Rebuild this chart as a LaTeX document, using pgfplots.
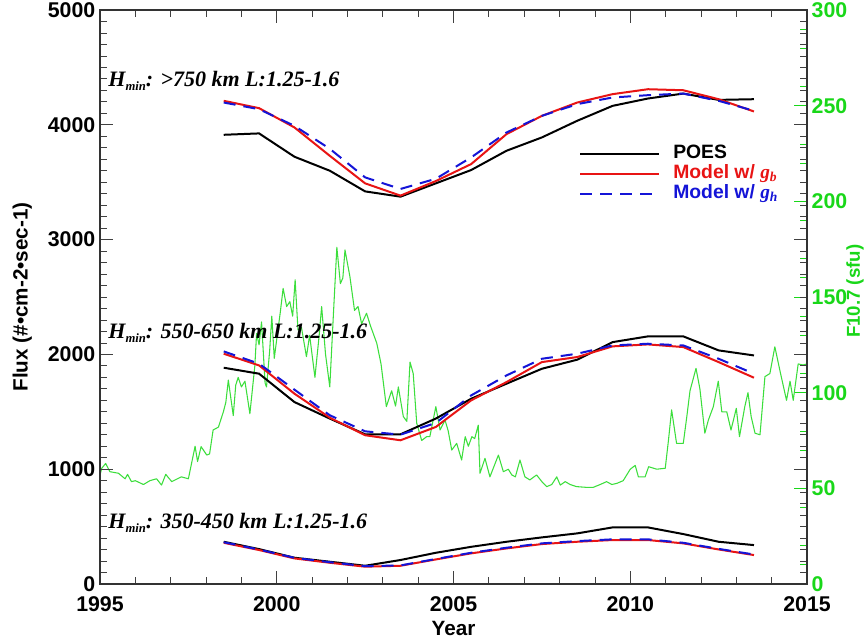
\documentclass[border=0pt]{standalone}
\usepackage{fontspec}
\setmainfont{Liberation Sans}
\newfontfamily\serifbi{Liberation Serif}
\usepackage{pgfplots}
\pgfplotsset{compat=1.18}
\definecolor{fgreen}{RGB}{60,222,60}
\definecolor{tgreen}{RGB}{25,215,25}
\definecolor{mred}{RGB}{232,20,20}
\definecolor{mblue}{RGB}{20,20,215}
\newcommand{\hmin}[1]{{\serifbi\bfseries\itshape\fontsize{16.5}{16.5}\selectfont H\raisebox{-3pt}{\fontsize{9.5}{9.5}\selectfont min}: #1}}
\begin{document}
\begin{tikzpicture}
\useasboundingbox (-75pt,-42pt) rectangle (574.5pt,438pt);
% right axis: F10.7
\begin{axis}[
  scale only axis, width=530.25pt, height=430.5pt,
  xmin=1995, xmax=2015, ymin=0, ymax=300,
  hide x axis, axis y line*=right,
  axis line style={black!80, line width=0.8pt},
  ytick={0,50,...,300}, minor y tick num=4,
  tick align=inside, major tick length=10pt, minor tick length=5pt,
  y tick style={tgreen, line width=0.6pt},
  yticklabel style={tgreen, font=\bfseries\fontsize{16}{16}\selectfont},
  /pgf/number format/assume math mode=true,
  ylabel={F10.7 (sfu)},
  ylabel style={tgreen, font=\bfseries\fontsize{14}{14}\selectfont, at={(axis description cs:1.068,0.51)}, anchor=center},
]
\addplot[fgreen, line width=0.8pt, line join=round] coordinates {
(1995.0,57) (1995.05,60.5) (1995.16,63) (1995.28,58.7) (1995.52,57.9) (1995.71,55) (1995.78,57.3) (1995.89,53.5)
(1996.0,54) (1996.23,52) (1996.41,54) (1996.6,55) (1996.74,51.7) (1996.86,57.3) (1997.03,53.5) (1997.3,56)
(1997.5,55) (1997.69,72) (1997.76,64) (1997.86,71.8) (1998.02,67.4) (1998.1,68) (1998.2,80.5) (1998.35,82)
(1998.49,90) (1998.56,95) (1998.63,106.6) (1998.77,88) (1998.84,104) (1998.91,108) (1999.0,103) (1999.1,106)
(1999.24,89) (1999.38,114) (1999.43,131) (1999.5,125) (1999.57,137) (1999.67,105) (1999.71,103) (1999.8,122)
(1999.86,140) (1999.93,118) (2000.0,128) (2000.1,142) (2000.18,154.5) (2000.28,145) (2000.37,147.6) (2000.45,140)
(2000.52,159) (2000.6,132.8) (2000.7,134) (2000.84,118.8) (2000.93,130) (2001.08,108) (2001.2,130) (2001.27,145)
(2001.38,120) (2001.5,103) (2001.6,140) (2001.7,176) (2001.8,157) (2001.87,160) (2001.93,174.6) (2002.07,160.6)
(2002.2,143) (2002.3,145) (2002.4,136) (2002.54,141.5) (2002.65,135) (2002.83,125.8) (2002.95,115) (2003.1,92.7)
(2003.25,101) (2003.36,93) (2003.44,103) (2003.58,87.5) (2003.68,85) (2003.77,116) (2003.86,110) (2003.96,84)
(2004.1,75) (2004.24,77) (2004.33,77) (2004.5,92.7) (2004.62,80.5) (2004.76,85.7) (2004.85,80) (2004.95,70)
(2005.09,73.5) (2005.23,64.8) (2005.33,77) (2005.42,72) (2005.52,77) (2005.6,76) (2005.7,83) (2005.75,57.9)
(2005.89,65.7) (2006.03,56) (2006.27,67.4) (2006.41,58.7) (2006.55,60) (2006.65,57) (2006.75,56) (2006.88,64.8)
(2007.02,56) (2007.16,54.4) (2007.35,57) (2007.5,53.5) (2007.64,50.9) (2007.78,52) (2007.92,56) (2008.02,51.7)
(2008.16,53.5) (2008.3,52) (2008.48,50.9) (2008.77,50.5) (2008.95,50.5) (2009.15,52) (2009.33,53.5) (2009.48,52)
(2009.62,52.6) (2009.8,54) (2010.0,60) (2010.14,62) (2010.23,56) (2010.42,56) (2010.52,61.3) (2010.75,60)
(2010.99,60.5) (2011.08,75) (2011.17,91) (2011.31,73.5) (2011.5,73.5) (2011.6,87.5) (2011.69,101) (2011.86,112.7)
(2011.97,102) (2012.11,78.8) (2012.21,85.7) (2012.35,92.7) (2012.49,106) (2012.59,90) (2012.73,90) (2012.85,80.5)
(2013.0,91.8) (2013.09,77) (2013.24,92.7) (2013.33,100) (2013.42,87.5) (2013.53,78.8) (2013.67,78) (2013.81,108.4)
(2013.95,110) (2014.09,124) (2014.24,111) (2014.42,96) (2014.52,106) (2014.61,96) (2014.75,115) (2014.89,114.5)
(2015.0,115)
};
\end{axis}
% main axis: flux
\begin{axis}[
  scale only axis, width=530.25pt, height=430.5pt,
  xmin=1995, xmax=2015, ymin=0, ymax=5000,
  axis line style={black!80, line width=0.8pt},
  xtick={1995,2000,...,2015}, minor x tick num=4,
  ytick={0,1000,...,5000}, minor y tick num=9,
  tick align=inside, major tick length=10pt, minor tick length=5pt,
  tick style={black!75, line width=0.6pt},
  ticklabel style={font=\bfseries\fontsize{16}{16}\selectfont, /pgf/number format/1000 sep=},
  xticklabel style={yshift=-6pt},
  /pgf/number format/assume math mode=true,
  xlabel={Year}, ylabel={Flux (\#•cm-2•sec-1)},
  xlabel style={font=\bfseries\fontsize{15.5}{15.5}\selectfont, at={(axis description cs:0.5,-0.0767)}, anchor=center},
  ylabel style={font=\bfseries\fontsize{15.5}{15.5}\selectfont, at={(axis description cs:-0.110,0.5)}, anchor=center},
  legend style={at={(axis description cs:0.6775,0.765)}, anchor=north west, draw=none, fill=none,
    font=\bfseries\fontsize{14.5}{14.5}\selectfont, inner sep=0pt, row sep=2pt,
    nodes={inner xsep=0pt, inner ysep=0pt, text height=10pt, text depth=3pt}},
  legend cell align=left,
  legend image code/.code={\draw[#1] (0pt,0pt) -- (59pt,0pt); \path (69pt,0pt);},
]
\addplot[black, line width=1.5pt] coordinates {
(1998.5,3913) (1999.5,3925) (2000.5,3722) (2001.5,3600) (2002.5,3420) (2003.5,3374) (2004.5,3490) (2005.5,3606)
(2006.5,3774) (2007.5,3890) (2008.5,4035) (2009.5,4165) (2010.5,4229) (2011.5,4272) (2012.5,4217) (2013.5,4223)};
\addlegendentry{POES}
\addplot[mred, line width=1.5pt] coordinates {
(1998.5,4209) (1999.5,4145) (2000.5,3977) (2001.5,3730) (2002.5,3490) (2003.5,3383) (2004.5,3510) (2005.5,3658)
(2006.5,3919) (2007.5,4078) (2008.5,4194) (2009.5,4267) (2010.5,4310) (2011.5,4301) (2012.5,4223) (2013.5,4116)};
\addlegendentry{\textcolor{mred}{Model w/ {\serifbi\itshape g\textsubscript{b}}}}
\addplot[mblue, line width=1.5pt, dash pattern=on 9pt off 6pt] coordinates {
(1998.5,4194) (1999.5,4136) (2000.5,3991) (2001.5,3791) (2002.5,3542) (2003.5,3441) (2004.5,3530) (2005.5,3716)
(2006.5,3933) (2007.5,4078) (2008.5,4180) (2009.5,4238) (2010.5,4258) (2011.5,4272) (2012.5,4209) (2013.5,4122)};
\addlegendentry{\textcolor{mblue}{Model w/ {\serifbi\itshape g\textsubscript{h}}}}
% middle group
\addplot[black, line width=1.5pt, forget plot] coordinates {
(1998.5,1884) (1999.5,1832) (2000.5,1585) (2001.5,1441) (2002.5,1304) (2003.5,1304) (2004.5,1441) (2005.5,1614)
(2006.5,1745) (2007.5,1875) (2008.5,1954) (2009.5,2107) (2010.5,2157) (2011.5,2157) (2012.5,2035) (2013.5,1991)};
\addplot[mred, line width=1.5pt, forget plot] coordinates {
(1998.5,2006) (1999.5,1904) (2000.5,1658) (2001.5,1449) (2002.5,1296) (2003.5,1252) (2004.5,1368) (2005.5,1600)
(2006.5,1759) (2007.5,1933) (2008.5,1977) (2009.5,2070) (2010.5,2087) (2011.5,2064) (2012.5,1933) (2013.5,1797)};
\addplot[mblue, line width=1.5pt, dash pattern=on 9pt off 6pt, forget plot] coordinates {
(1998.5,2026) (1999.5,1919) (2000.5,1693) (2001.5,1470) (2002.5,1330) (2003.5,1301) (2004.5,1403) (2005.5,1643)
(2006.5,1817) (2007.5,1962) (2008.5,2006) (2009.5,2078) (2010.5,2093) (2011.5,2078) (2012.5,1962) (2013.5,1832)};
% bottom group
\addplot[black, line width=1.5pt, forget plot] coordinates {
(1998.5,368) (1999.5,304) (2000.5,229) (2001.5,194) (2002.5,159) (2003.5,209) (2004.5,272) (2005.5,324)
(2006.5,368) (2007.5,406) (2008.5,441) (2009.5,493) (2010.5,493) (2011.5,435) (2012.5,368) (2013.5,339)};
\addplot[mred, line width=1.5pt, forget plot] coordinates {
(1998.5,359) (1999.5,296) (2000.5,223) (2001.5,185) (2002.5,151) (2003.5,159) (2004.5,214) (2005.5,267)
(2006.5,310) (2007.5,348) (2008.5,368) (2009.5,383) (2010.5,383) (2011.5,354) (2012.5,301) (2013.5,252)};
\addplot[mblue, line width=1.5pt, dash pattern=on 9pt off 6pt, forget plot] coordinates {
(1998.5,364) (1999.5,300) (2000.5,228) (2001.5,190) (2002.5,155) (2003.5,162) (2004.5,218) (2005.5,272)
(2006.5,316) (2007.5,354) (2008.5,374) (2009.5,389) (2010.5,389) (2011.5,359) (2012.5,306) (2013.5,257)};
\node[anchor=base west, inner sep=0pt] at (axis cs:1995.23,4330) {\hmin{>750 km L:1.25-1.6}};
\node[anchor=base west, inner sep=0pt] at (axis cs:1995.23,2139) {\hmin{550-650 km L:1.25-1.6}};
\node[anchor=base west, inner sep=0pt] at (axis cs:1995.23,487) {\hmin{350-450 km L:1.25-1.6}};
\end{axis}
\end{tikzpicture}
\end{document}
